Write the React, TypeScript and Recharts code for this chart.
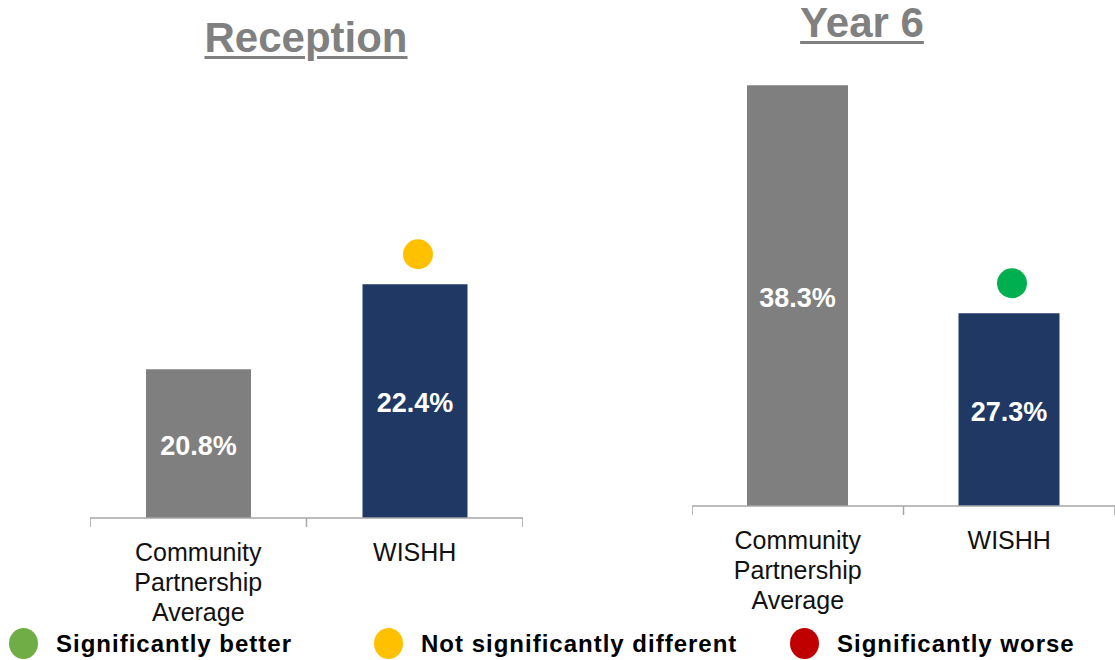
import React from "react";
import { BarChart, Bar, XAxis, YAxis, LabelList, Cell } from "recharts";

// categories and values
const categories = ["Community Partnership Average", "WISHH"];
const categoryLines = [["Community", "Partnership", "Average"], ["WISHH"]];
const receptionValues = [20.8, 22.4];
const year6Values = [38.3, 27.3];
// significance marker per bar ("" = no marker)
const receptionSig = ["", "notDifferent"];
const year6Sig = ["", "better"];
const barColors = ["#7f7f7f", "#203864"];

const sigColors: Record<string, string> = {
  better: "#00b050",
  notDifferent: "#ffc000",
  worse: "#c00000",
};

const legendLabels = ["Significantly better", "Not significantly different", "Significantly worse"];
const legendColors = ["#70ad47", "#ffc000", "#c00000"];

const FONT = "'Liberation Sans', Arial, sans-serif";

function makeRows(values: number[], sig: string[]) {
  return categories.map((name, i) => ({ name, value: values[i], sig: sig[i] }));
}

function CategoryTick(props: any) {
  const { x, y, index, bandHalf, last } = props;
  const lines = categoryLines[index] || [];
  return (
    <g>
      <line x1={x - bandHalf} x2={x - bandHalf} y1={y} y2={y + 9} stroke="#a6a6a6" strokeWidth={1.5} />
      {index === last && (
        <line x1={x + bandHalf} x2={x + bandHalf} y1={y} y2={y + 9} stroke="#a6a6a6" strokeWidth={1.5} />
      )}
      <text textAnchor="middle" fontFamily={FONT} fontSize={25} fill="#111">
        {lines.map((l: string, i: number) => (
          <tspan key={i} x={x} y={y + 43 + i * 30}>
            {l}
          </tspan>
        ))}
      </text>
    </g>
  );
}

function ValueLabel(props: any) {
  const vb = props.viewBox || props;
  const cx = vb.x + vb.width / 2;
  const cy = vb.y + vb.height / 2 + 2;
  return (
    <text x={cx} y={cy} textAnchor="middle" dominantBaseline="central"
      fontFamily={FONT} fontWeight="bold" fontSize={27} fill="#fff">
      {Number(props.value).toFixed(1)}%
    </text>
  );
}

function SigDot(props: any) {
  if (!props.value) return null;
  const vb = props.viewBox || props;
  return <circle cx={vb.x + vb.width / 2 + 3} cy={vb.y - 30} r={15} fill={sigColors[props.value]} />;
}

type PanelProps = {
  title: string;
  titleTop: number;
  titleCenter: number;
  values: number[];
  sig: string[];
  left: number;
  width: number;
  marginTop: number;
  axisHeight: number;
  domain: [number, number];
  barSize: number;
};

function Panel(p: PanelProps) {
  const data = makeRows(p.values, p.sig);
  const bandHalf = p.width / categories.length / 2;
  return (
    <>
      <div
        style={{
          position: "absolute",
          left: p.titleCenter - 200,
          width: 400,
          top: p.titleTop,
          textAlign: "center",
          fontFamily: FONT,
          fontWeight: "bold",
          fontSize: 42,
          lineHeight: "42px",
          color: "#808080",
        }}
      >
        <span style={{ textDecoration: "underline", textDecorationThickness: 3, textUnderlineOffset: 4 }}>
          {p.title}
        </span>
      </div>
      <div style={{ position: "absolute", left: p.left, top: 0 }}>
        <BarChart
          width={p.width}
          height={660}
          data={data}
          margin={{ top: p.marginTop, right: 0, left: 0, bottom: 0 }}
        >
          <XAxis
            dataKey="name"
            height={p.axisHeight}
            interval={0}
            axisLine={{ stroke: "#a6a6a6", strokeWidth: 1.5 }}
            tickLine={false}
            tickSize={0}
            tickMargin={0}
            tick={<CategoryTick bandHalf={bandHalf} last={categories.length - 1} />}
          />
          <YAxis hide domain={p.domain} />
          <Bar dataKey="value" barSize={p.barSize} isAnimationActive={false}>
            {data.map((d, i) => (
              <Cell key={d.name} fill={barColors[i]} />
            ))}
            <LabelList dataKey="value" content={<ValueLabel />} />
            <LabelList dataKey="sig" content={<SigDot />} />
          </Bar>
        </BarChart>
      </div>
    </>
  );
}

export default function App() {
  return (
    <div style={{ position: "absolute", left: 0, top: 0, width: 1115, height: 660, background: "#fff", overflow: "hidden" }}>
      <Panel
        title="Reception"
        titleTop={17}
        titleCenter={306}
        values={receptionValues}
        sig={receptionSig}
        left={90}
        width={433}
        marginTop={93}
        axisHeight={142}
        domain={[18, 26]}
        barSize={105}
      />
      <Panel
        title="Year 6"
        titleTop={2}
        titleCenter={862}
        values={year6Values}
        sig={year6Sig}
        left={692}
        width={423}
        marginTop={50}
        axisHeight={154}
        domain={[18, 40]}
        barSize={101}
      />
      {legendLabels.map((label, i) => (
        <div
          key={label}
          style={{
            position: "absolute",
            left: [9, 374, 790][i],
            top: 628,
            display: "flex",
            alignItems: "center",
            fontFamily: FONT,
            fontWeight: "bold",
            fontSize: 24,
            letterSpacing: 1,
            color: "#000",
          }}
        >
          <div style={{ width: 29, height: 31, borderRadius: "50%", background: legendColors[i], marginRight: 18 }} />
          <span>{label}</span>
        </div>
      ))}
    </div>
  );
}
